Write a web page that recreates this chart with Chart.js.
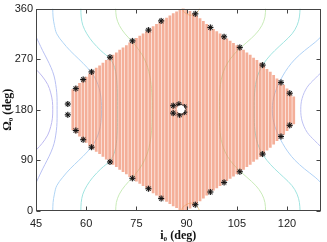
<!DOCTYPE html>
<html><head><meta charset="utf-8">
<style>html,body{margin:0;padding:0;background:#fff;overflow:hidden}canvas{display:block}</style>
<script src="https://cdn.jsdelivr.net/npm/chart.js@4/dist/chart.umd.min.js"></script>
</head><body>
<canvas id="c" width="327" height="242"></canvas>
<script>
// ---- tick labels ----
const xTicks = [45, 60, 75, 90, 105, 120];
const yTicks = [0, 90, 180, 270, 360];

// ---- filled region: one vertical column per i0 (deg), from bottom to top Omega0 (deg) ----
const colI   = [56,57,58,59,60,61,62,63,64,65,66,67,68,69,70,71,72,73,74,75,76,77,78,79,80,81,82,83,84,85,86,87,88,89,90,91,92,93,94,95,96,97,98,99,100,101,102,103,104,105,106,107,108,109,110,111,112,113,114,115,116,117,118,119,120,121,122];
const colTop = [216,221,227,233,238,244,249,254,258,263,268,273,277,281,286,290,294,299,303,307,311,315,319,323,328,332,336,340,343,347,351,354,358,360,358,355,351,347,342,337,332,328,323,319,315,311,306,302,298,294,290,286,281,277,272,268,263,258,252,247,241,235,230,224,217,210,203];
const colBot = [144,139,133,127,122,116,111,106,102,97,92,87,83,79,74,70,66,61,57,53,49,45,41,37,32,28,24,20,17,13,9,6,2,0,2,5,9,13,18,23,28,32,37,41,45,49,54,58,62,66,70,74,79,83,88,92,97,102,108,113,119,125,130,136,143,150,155];

// ---- boundary markers ----
const edgeI = [54.5,54.5,56.9,56.9,59.1,59.1,61.6,61.6,67.1,67.1,73.8,73.8,78.6,78.6,82.4,82.4,92.6,92.6,97.1,97.1,101.2,101.2,105.9,105.9,112.7,112.7,118.2,118.2,120.8,120.8];
const edgeO = [190.2,171.0,217.6,143.1,233.8,126.8,247.3,113.4,273.4,87.2,302.4,58.1,321.6,39.6,338.0,22.2,350.5,11.2,326.3,33.8,309.7,50.8,290.8,69.8,259.4,101.2,228.6,132.4,209.4,152.3];
// ---- central cluster ----
const coreI = [86.0,87.7,89.3,89.3,87.9,86.0];
const coreO = [187.2,189.7,185.0,175.7,171.0,174.0];
const refI = [88.3];
const refO = [181];

// ---- background contour lines (Omega0, i0) ----
const cPurpleB_O = [105,110,120,135,150,165,180,195,210,225,240,250,255];
const cPurpleB_I = [44.6,45.3,46.8,48.5,49.4,49.9,50.0,49.9,49.4,48.5,46.8,45.3,44.6];
const cPurpleA_O = [45,50,60,75,90,105,120,135,150,165,180,195,210,225,240,255,270,285,300,310,315];
const cPurpleA_I = [44.5,45,45.8,47,48.3,49.5,50.4,50.9,51.2,51.3,51.3,51.3,51.2,50.9,50.4,49.5,48.3,47,45.8,45,44.5];
const cBlueL_O = [0,15,30,45,60,75,90,105,120,135,150,165,180,195,210,225,240,255,270,285,300,315,330,345,360];
const cBlueL_I = [50,50.1,50.5,51.2,53,55.2,57.8,60.3,62.3,63.5,64.2,64.5,64.6,64.5,64.2,63.5,62.3,60.3,57.8,55.2,53,51.2,50.5,50.1,50];
const cCyanL_O = cBlueL_O;
const cCyanL_I = [58.4,58.5,59,60.2,62,64.4,67.2,68.5,69,69.2,69.3,69.3,69.3,69.3,69.3,69.2,69,68.5,67.2,64.4,62,60.2,59,58.5,58.4];
const cGreenL_O = cBlueL_O;
const cGreenL_I = [68.8,69,69.9,71.6,73.9,75.9,77.4,78.4,79,79.4,79.6,79.7,79.7,79.7,79.6,79.4,79,78.4,77.4,75.9,73.9,71.6,69.9,69,68.8];
const cGreenR_O = cBlueL_O;
const cGreenR_I = [113.6,113.4,112.5,110.7,108,105.2,103,101.5,100.6,100.1,99.9,99.8,99.8,99.8,99.9,100.1,100.6,101.5,103,105.2,108,110.7,112.5,113.4,113.6];
const cCyanR_O = cBlueL_O;
const cCyanR_I = [123.9,123.7,123,121.5,119,116.3,114,112.3,111.2,110.6,110.3,110.2,110.2,110.2,110.3,110.6,111.2,112.3,114,116.3,119,121.5,123,123.7,123.9];
const cBlueR_O = [45,51,60,75,90,105,120,135,150,165,180,195,210,225,240,255,270,285,300,309,315];
const cBlueR_I = [131,130,128.4,125.2,122.4,120.3,118.7,117.4,116.4,115.8,115.6,115.8,116.4,117.4,118.7,120.3,122.4,125.2,128.4,130,131];
const cPurpleR_O = [110,115,125,140,160,180,200,220,235,245,250];
const cPurpleR_I = [131,130,128.3,126,124.5,124.1,124.5,126,128.3,130,131];
const cYellowB_O = [0,6,11,14,13,8,0];
const cYellowB_I = [88.4,88.8,89.8,91,92.2,93.2,93.9];
const cYellowT_O = [360,354,349,348,350,355,360];
const cYellowT_I = [88.6,89.2,90.5,91.5,92.7,93.4,93.8];

const pts = (xs, ys) => xs.map((v, k) => ({x: v, y: ys[k]}));
const contour = (xs, ys, color) => ({
  type: 'line', data: pts(xs, ys), borderColor: color, borderWidth: 1,
  pointRadius: 0, tension: 0.35, fill: false, order: 10
});

const frame = {
  id: 'frame',
  afterDraw(chart) {
    const {ctx, chartArea: a, scales: {x, y}} = chart;
    ctx.save();
    ctx.strokeStyle = '#444';
    ctx.lineWidth = 1;
    const L = Math.round(a.left) + 0.5, R = Math.round(a.right) - 0.5;
    const T = Math.round(a.top) + 0.5, B = Math.round(a.bottom) - 0.5;
    ctx.strokeRect(L, T, R - L, B - T);
    ctx.beginPath();
    xTicks.forEach(v => {
      const p = Math.round(x.getPixelForValue(v)) + 0.5;
      ctx.moveTo(p, B); ctx.lineTo(p, B - 4);
      ctx.moveTo(p, T); ctx.lineTo(p, T + 4);
    });
    yTicks.forEach(v => {
      const p = Math.round(y.getPixelForValue(v)) + 0.5;
      ctx.moveTo(L, p); ctx.lineTo(L + 4, p);
      ctx.moveTo(R, p); ctx.lineTo(R - 4, p);
    });
    ctx.stroke();
    ctx.restore();
  }
};

new Chart(document.getElementById('c'), {
  type: 'scatter',
  data: {
    datasets: [
      contour(cPurpleB_I, cPurpleB_O, '#bdb9f0'),
      contour(cPurpleA_I, cPurpleA_O, '#b9c0f3'),
      contour(cBlueL_I, cBlueL_O, '#b0d5f5'),
      contour(cCyanL_I, cCyanL_O, '#a0e4e0'),
      contour(cGreenL_I, cGreenL_O, '#c9ebb8'),
      contour(cYellowB_I, cYellowB_O, '#f3d49a'),
      contour(cYellowT_I, cYellowT_O, '#f3d49a'),
      contour(cGreenR_I, cGreenR_O, '#c9ebb8'),
      contour(cCyanR_I, cCyanR_O, '#a0e4e0'),
      contour(cBlueR_I, cBlueR_O, '#b0d2f6'),
      contour(cPurpleR_I, cPurpleR_O, '#bec1f3'),
      {
        type: 'bar', data: colI.map((v, k) => ({x: v, y: [colBot[k], colTop[k]]})),
        backgroundColor: 'rgba(238,130,95,0.64)', borderWidth: 0,
        barThickness: 2.1, order: 5
      },
      {
        data: pts(edgeI.concat(coreI), edgeO.concat(coreO)),
        pointStyle: 'circle', pointRadius: 3, backgroundColor: 'rgba(80,80,80,0.3)',
        borderWidth: 0, order: 3
      },
      {
        data: pts(edgeI.concat(coreI), edgeO.concat(coreO)),
        pointStyle: 'star', pointRadius: 3, borderColor: '#111', borderWidth: 1,
        backgroundColor: '#111', order: 2
      },
      {
        data: pts(refI, refO),
        pointStyle: 'star', pointRadius: 4, borderColor: '#fff', borderWidth: 2.5,
        backgroundColor: '#fff', order: 1
      },
      {
        data: pts(refI, refO),
        pointStyle: 'circle', pointRadius: 2.5, borderWidth: 0,
        backgroundColor: '#fff', order: 0
      }
    ]
  },
  options: {
    responsive: false, animation: false, devicePixelRatio: 1,
    layout: {padding: {top: 5, right: 2, left: 0, bottom: 0}},
    plugins: {legend: {display: false}, tooltip: {enabled: false}},
    events: [],
    scales: {
      x: {
        type: 'linear', min: 45, max: 130, offset: false,
        grid: {display: false, drawTicks: false}, border: {display: false},
        afterBuildTicks: s => { s.ticks = xTicks.map(v => ({value: v})); },
        afterFit: s => { s.height = 31; },
        ticks: {padding: 6, color: '#222', font: {family: 'Liberation Sans', size: 11}},
        title: {display: true, text: 'i\u2080 (deg)', color: '#111', padding: {top: 0, bottom: 0},
                font: {family: 'Liberation Serif', size: 12, weight: 'bold', lineHeight: 1}}
      },
      y: {
        type: 'linear', min: 0, max: 360,
        grid: {display: false, drawTicks: false}, border: {display: false},
        afterBuildTicks: s => { s.ticks = yTicks.map(v => ({value: v})); },
        afterFit: s => { s.width = 36; },
        ticks: {padding: 3, color: '#222', font: {family: 'Liberation Sans', size: 11, lineHeight: 1}},
        title: {display: true, text: '\u03a9\u2080 (deg)', color: '#111', padding: {top: 2, bottom: 0},
                font: {family: 'Liberation Serif', size: 12, weight: 'bold', lineHeight: 1}}
      }
    }
  },
  plugins: [frame]
});
</script>
</body></html>
